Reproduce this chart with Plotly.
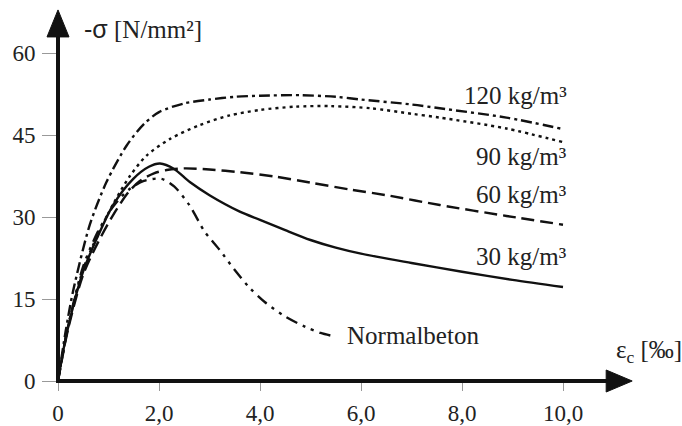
import plotly.graph_objects as go

# Stress-strain curves of steel-fibre concrete (compression), by fibre content
eps_30 = [0, 0.17, 0.5, 0.77, 1.09, 1.49, 1.8, 2.02, 2.3, 2.61, 3.0, 3.6, 4.0, 4.5, 5.0, 5.5, 6.0, 7.0, 8.0, 9.0, 10.0]
sig_30 = [0, 8.6, 20.1, 26.1, 32.2, 37.0, 39.2, 39.8, 38.8, 36.4, 34.0, 31.0, 29.5, 27.6, 25.8, 24.4, 23.3, 21.6, 20.0, 18.5, 17.2]

eps_60 = [0, 0.2, 0.5, 0.8, 1.1, 1.4, 1.62, 1.9, 2.15, 2.5, 3.0, 3.6, 4.3, 5.0, 5.8, 6.5, 7.56, 8.88, 10.0]
sig_60 = [0, 9.5, 19.5, 25.5, 30.5, 34.6, 36.6, 38.0, 38.6, 38.9, 38.7, 38.2, 37.4, 36.3, 35.0, 34.0, 32.2, 30.2, 28.6]

eps_90 = [0, 0.2, 0.5, 0.8, 1.1, 1.43, 1.76, 2.22, 2.8, 3.4, 4.0, 4.7, 5.4, 6.2, 7.0, 7.56, 8.88, 10.0]
sig_90 = [0, 10.0, 20.5, 27.0, 32.5, 37.6, 41.3, 44.3, 46.8, 48.6, 49.6, 50.2, 50.3, 49.9, 48.9, 48.2, 46.2, 43.7]

eps_120 = [0, 0.15, 0.3, 0.63, 0.96, 1.36, 1.7, 2.0, 2.5, 3.0, 3.5, 4.0, 4.8, 5.5, 6.0, 7.0, 7.56, 8.88, 10.0]
sig_120 = [0, 9.0, 16.5, 28.6, 36.4, 43.1, 47.0, 49.2, 50.8, 51.5, 52.0, 52.2, 52.3, 52.0, 51.5, 50.6, 49.9, 48.2, 46.1]

eps_nb = [0, 0.2, 0.5, 0.8, 1.1, 1.4, 1.7, 2.05, 2.3, 2.6, 2.9, 3.2, 3.5, 3.8, 4.1, 4.5, 4.9, 5.2, 5.5]
sig_nb = [0, 10.0, 21.0, 27.5, 32.0, 35.0, 36.6, 37.0, 35.6, 32.2, 27.4, 24.0, 20.3, 17.0, 14.4, 11.8, 9.9, 8.8, 8.1]

series = [
    ("30 kg/m³", eps_30, sig_30, "solid", 22.8),
    ("60 kg/m³", eps_60, sig_60, "13px,6px", 34.2),
    ("90 kg/m³", eps_90, sig_90, "3px,4px", 41.0),
    ("120 kg/m³", eps_120, sig_120, "11px,4px,3px,4px", 52.2),
    ("Normalbeton", eps_nb, sig_nb, "12px,6px,3px,6px,3px,6px", None),
]

x_ticks = [0, 2, 4, 6, 8, 10]
x_ticklabels = ["0", "2,0", "4,0", "6,0", "8,0", "10,0"]
y_ticks = [0, 15, 30, 45, 60]
y_ticklabels = ["0", "15", "30", "45", "60"]

INK = "#111111"
TXT = "#222222"
SERIF = "Liberation Serif, Times New Roman, serif"
FS_TICK = 23
FS_LAB = 25

X_MAX = 624 / 50.5
Y_MAX = 384 / 5.508
# axis extents (data units) where the arrow tips sit
X_TIP = 11.37
Y_TIP = 67.9

fig = go.Figure()
for name, xs, ys, dash, _ in series:
    fig.add_trace(go.Scatter(
        x=xs, y=ys, mode="lines", name=name,
        line=dict(color=INK, width=2.4, dash=dash, shape="spline", smoothing=0.8),
        showlegend=False, hoverinfo="skip",
    ))

annotations = []
# curve labels at the right end
for name, xs, ys, dash, ylab in series:
    if ylab is None:
        continue
    annotations.append(dict(x=10.12, y=ylab, xref="x", yref="y", text=name,
                            showarrow=False, xanchor="right", yanchor="middle",
                            font=dict(family=SERIF, size=FS_LAB, color=TXT)))
annotations.append(dict(x=eps_nb[-1] + 0.18, y=sig_nb[-1] + 0.3, xref="x", yref="y",
                        text="Normalbeton", showarrow=False, xanchor="left",
                        yanchor="middle", font=dict(family=SERIF, size=FS_LAB, color=TXT)))

# axis titles
annotations.append(dict(x=0.47, y=64.5, xref="x", yref="y",
                        text='<span style="font-family:Liberation Sans, Arial, sans-serif">-σ</span> [N/mm²]',
                        showarrow=False, xanchor="left", yanchor="middle",
                        font=dict(family=SERIF, size=FS_LAB, color=TXT)))
annotations.append(dict(x=11.0, y=5.4, xref="x", yref="y",
                        text="ε<sub>c</sub> [‰]",
                        showarrow=False, xanchor="left", yanchor="middle",
                        font=dict(family=SERIF, size=FS_LAB, color=TXT)))

# axis lines with filled arrowheads (paper-referenced so they are not clipped)
xt = X_TIP / X_MAX
yt = Y_TIP / Y_MAX
shapes = [
    dict(type="line", xref="paper", yref="paper", x0=0, y0=0, x1=xt - 0.03, y1=0,
         line=dict(color=INK, width=4), layer="above"),
    dict(type="line", xref="paper", yref="paper", x0=0, y0=-0.005, x1=0, y1=yt - 0.04,
         line=dict(color=INK, width=4), layer="above"),
    dict(type="path", xref="paper", yref="paper", xsizemode="pixel", ysizemode="pixel",
         xanchor=xt, yanchor=0, path="M -26,-11 L 0,0 L -26,11 Z",
         fillcolor=INK, line=dict(color=INK, width=1), layer="above"),
    dict(type="path", xref="paper", yref="paper", xsizemode="pixel", ysizemode="pixel",
         xanchor=0, yanchor=yt, path="M -11,-27 L 0,0 L 11,-27 Z",
         fillcolor=INK, line=dict(color=INK, width=1), layer="above"),
]

fig.update_layout(
    width=682, height=426,
    margin=dict(l=58, r=0, t=0, b=42),
    paper_bgcolor="white", plot_bgcolor="white",
    annotations=annotations,
    shapes=shapes,
    xaxis=dict(range=[0, X_MAX], showgrid=False, zeroline=False, showline=False,
               tickvals=x_ticks, ticktext=x_ticklabels, ticks="outside", ticklen=9,
               tickcolor="#999999", tickwidth=1, ticklabelstandoff=2,
               tickfont=dict(family=SERIF, size=FS_TICK, color=TXT), fixedrange=True),
    yaxis=dict(range=[0, Y_MAX], showgrid=False, zeroline=False, showline=False,
               tickvals=y_ticks, ticktext=y_ticklabels, ticks="outside", ticklen=15,
               tickcolor="#999999", tickwidth=1, ticklabelstandoff=2,
               tickfont=dict(family=SERIF, size=FS_TICK, color=TXT), fixedrange=True),
)

fig.write_html("out.html")
